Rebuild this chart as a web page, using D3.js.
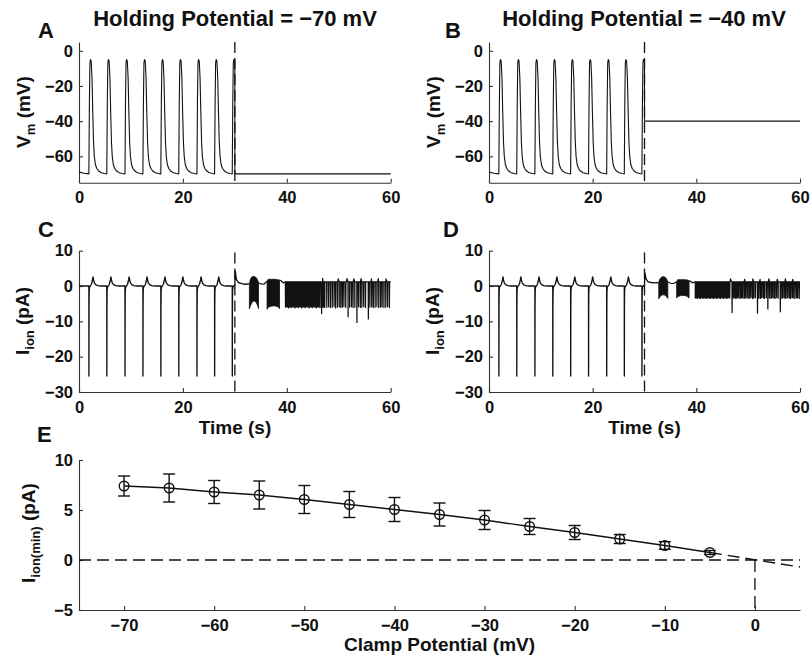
<!DOCTYPE html>
<html>
<head>
<meta charset="utf-8">
<script src="https://cdn.jsdelivr.net/npm/d3@7"></script>
<style>
  html, body { margin: 0; padding: 0; background: #fff; }
  svg { display: block; font-family: "Liberation Sans", Arial, Helvetica, sans-serif; font-weight: bold; }
  .axis text { font-size: 16.5px; fill: #111; font-family: "Liberation Sans", Arial, Helvetica, sans-serif; font-weight: bold; }
  .axis path, .axis line { stroke: #333; stroke-width: 1.1; }
  .label { fill: #111; }
</style>
</head>
<body>
<svg id="fig" width="810" height="658"></svg>
<script>
// ---------- tick labels ----------
const timeTicks = [0, 20, 40, 60];
const vmTicks = [0, -20, -40, -60];
const ionTicks = [10, 0, -10, -20, -30];
const clampTicks = [-70, -60, -50, -40, -30, -20, -10, 0];
const iminTicks = [10, 5, 0, -5];

// ---------- panels A-D: free-running period, then voltage clamp ----------
const holdingPotentials = [-70, -40];        // mV, panel A / panel B
const clampOnset = 30;                       // s
const spikeOnsets = [1.9, 5.35, 8.85, 12.3, 15.75, 19.2, 22.7, 26.1, 29.5]; // s

// membrane potential before the first spike [t (s), Vm (mV)]
const vmStart = [[0, -69], [1.0, -69.6], [1.9, -70]];
// one action potential [time after onset (s), Vm (mV)]
const vmSpikeShape = [
  [0, -70], [0.1, -30], [0.2, -7], [0.3, -5], [0.45, -6], [0.6, -15], [0.75, -35],
  [0.9, -52], [1.05, -60], [1.25, -64.5], [1.5, -66.8], [1.9, -68.4], [2.4, -69.3], [3.0, -69.8]
];
// ionic current during one action potential [time after onset (s), I (pA)]
const ionSpikeShape = [
  [0, 0], [0.01, -25.5], [0.03, -6], [0.06, -1.5], [0.12, -0.3], [0.3, 0],
  [0.5, 0.5], [0.7, 1.8], [0.8, 2.6], [0.9, 1.7], [1.05, 0.9], [1.3, 0.4], [1.7, 0.1], [2.3, 0]
];

// clamped current, holding -70 mV (panel C)
const clampC_lead = [[30.0, 0.3], [30.08, 4.2], [30.3, 1.8], [30.7, 1.0], [31.3, 0.7], [32.0, 0.5], [32.8, 0.6]];
const clampC_burst1 = [[32.8, 0.6, -6.5], [33.0, 2.0, -5.6], [33.3, 2.6, -4.6], [33.7, 2.7, -4.2], [34.1, 2.4, -4.6], [34.4, 1.6, -5.6], [34.55, 0.9, -6.4]];
const clampC_gap = [[34.55, 0.9], [35.0, 0.6], [35.6, 0.5], [36.2, 1.4]];
const clampC_burst2 = [[36.2, 1.4, -6.6], [36.4, 1.9, -6.0], [37.0, 1.9, -5.7], [37.6, 1.9, -5.6], [38.2, 1.8, -5.8], [38.6, 1.7, -6.4]];
const clampC_tail = [[38.6, 1.7], [38.9, 1.5], [39.3, 0.9], [39.7, 1.2]];
const clampC_baseline = 1.2;
const clampC_spikes = [
  [39.75, -6.0], [39.95, -5.8], [40.15, -6.0], [40.35, -6.2], [40.55, -5.9], [40.75, -6.0], [40.95, -6.1],
  [41.2, -5.8], [41.4, -6.0], [41.6, -6.2], [41.85, -5.9], [42.05, -6.0], [42.25, -6.1], [42.5, -5.8],
  [42.7, -6.0], [42.9, -6.2], [43.15, -5.9], [43.35, -6.0], [43.6, -6.1], [43.8, -5.8], [44.05, -6.0],
  [44.3, -6.2], [44.5, -5.9], [44.75, -6.0], [45.0, -6.1], [45.2, -5.8], [45.45, -6.0], [45.7, -6.2],
  [45.9, -5.9], [46.15, -6.0], [46.4, -6.1], [46.7, -7.8], [46.85, -6.0], [47.0, -5.8], [47.15, -6.0],
  [47.3, -6.1], [47.7, -6.0], [48.05, -5.9], [48.4, -6.1], [48.75, -6.0], [49.1, -5.8], [49.4, -6.2],
  [49.75, -6.0], [50.1, -5.9], [50.4, -6.1], [50.7, -6.0], [51.0, -5.8], [51.35, -6.1], [51.8, -8.7],
  [52.1, -6.0], [52.45, -5.9], [52.75, -6.1], [53.1, -6.0], [53.5, -10.3], [53.8, -5.9], [54.15, -6.1],
  [54.45, -6.0], [54.8, -5.8], [55.15, -6.1], [55.7, -9.3], [56.0, -6.0], [56.35, -5.9], [56.65, -6.1],
  [57.0, -6.0], [57.35, -5.8], [57.7, -6.1], [58.05, -6.0], [58.35, -5.9], [58.7, -6.1], [59.05, -6.0],
  [59.4, -5.8], [59.75, -6.1]
];
const clampC_bumps = [[46.9, 2.2], [49.9, 2.0], [51.6, 2.1], [52.9, 2.0], [54.3, 2.1], [56.3, 2.0], [57.6, 2.1], [59.1, 2.0]];

// clamped current, holding -40 mV (panel D)
const clampD_lead = [[30.0, 0.3], [30.08, 3.7], [30.3, 2.0], [30.7, 1.2], [31.3, 1.0], [32.0, 0.9], [32.75, 1.0]];
const clampD_burst1 = [[32.75, 1.0, -3.6], [33.0, 2.1, -3.0], [33.4, 2.6, -2.5], [33.8, 2.6, -2.5], [34.2, 2.2, -2.9], [34.5, 1.2, -3.5]];
const clampD_gap = [[34.5, 1.2], [35.0, 0.8], [35.6, 0.7], [36.2, 1.2]];
const clampD_burst2 = [[36.2, 1.2, -3.4], [36.4, 1.8, -3.0], [37.0, 1.8, -2.7], [37.8, 1.8, -2.7], [38.3, 1.7, -3.0], [38.6, 1.5, -3.4]];
const clampD_tail = [[38.6, 1.5], [38.9, 1.3], [39.3, 0.9], [39.8, 1.2]];
const clampD_baseline = 1.2;
const clampD_spikes = [
  [39.8, -3.4], [40.0, -3.3], [40.2, -3.5], [40.4, -3.3], [40.6, -3.4], [40.8, -3.5], [41.0, -3.3],
  [41.2, -3.4], [41.45, -3.5], [41.65, -3.3], [41.85, -3.4], [42.05, -3.5], [42.3, -3.3], [42.5, -3.4],
  [42.7, -3.5], [42.9, -3.3], [43.15, -3.4], [43.35, -3.5], [43.55, -3.3], [43.8, -3.4], [44.0, -3.5],
  [44.2, -3.3], [44.45, -3.4], [44.65, -3.5], [44.85, -3.3], [45.1, -3.4], [45.3, -3.5], [45.5, -3.3],
  [45.75, -3.4], [45.95, -3.5], [46.2, -3.3], [46.45, -3.4], [46.9, -7.5], [47.1, -3.4], [47.35, -3.3],
  [47.6, -3.5], [47.85, -3.4], [48.1, -3.3], [48.4, -3.5], [48.65, -3.4], [48.9, -3.3], [49.2, -3.5],
  [49.45, -3.4], [49.75, -3.3], [50.0, -3.5], [50.3, -3.4], [50.55, -3.3], [50.85, -3.5], [51.1, -3.4],
  [51.4, -3.3], [51.8, -7.7], [52.05, -3.4], [52.35, -3.5], [52.6, -3.3], [52.9, -3.4], [53.15, -3.5],
  [53.5, -3.3], [53.8, -6.5], [54.1, -3.4], [54.4, -3.5], [54.65, -3.3], [54.95, -3.4], [55.2, -3.5],
  [55.5, -3.3], [55.8, -3.4], [56.2, -7.3], [56.5, -3.5], [56.75, -3.3], [57.05, -3.4], [57.3, -3.5],
  [57.6, -3.3], [57.9, -3.4], [58.15, -3.5], [58.45, -3.3], [58.7, -3.4], [59.0, -3.5], [59.3, -3.3],
  [59.55, -3.4], [59.85, -3.5]
];
const clampD_bumps = [[46.6, 2.0], [49.3, 1.9], [50.9, 2.0], [52.3, 1.9], [54.0, 2.0], [55.6, 1.9], [57.2, 2.0], [58.6, 1.9]];

// ---------- panel E: minimum ionic current vs clamp potential ----------
const clampPotentials = [-70, -65, -60, -55, -50, -45, -40, -35, -30, -25, -20, -15, -10, -5];
const iMinMean = [7.4, 7.2, 6.8, 6.5, 6.05, 5.55, 5.05, 4.55, 4.0, 3.35, 2.75, 2.1, 1.45, 0.75];
const iMinErr = [1.0, 1.4, 1.15, 1.4, 1.4, 1.3, 1.2, 1.15, 0.95, 0.8, 0.7, 0.45, 0.38, 0.2];
const iMinExtrapolation = [[-5, 0.75], [5, -0.7]];

// ---------- layout ----------
const svg = d3.select('#fig');
const ink = '#111';
const box = {
  A: { l: 79, r: 390.7, t: 42, b: 182.7 },
  B: { l: 489, r: 800, t: 42, b: 182.7 },
  C: { l: 79, r: 390.7, t: 250.7, b: 392 },
  D: { l: 489, r: 800, t: 250.7, b: 392 },
  E: { l: 79, r: 800, t: 460, b: 610 }
};

function drawAxes(xs, ys, xticks, yticks) {
  const [x0] = xs.range();
  const [y0] = ys.range();
  const gx = svg.append('g').attr('class', 'axis')
    .attr('transform', `translate(0,${y0})`)
    .call(d3.axisBottom(xs).tickValues(xticks).tickSizeInner(-4).tickSizeOuter(0).tickPadding(9));
  const gy = svg.append('g').attr('class', 'axis')
    .attr('transform', `translate(${x0},0)`)
    .call(d3.axisLeft(ys).tickValues(yticks).tickSizeInner(-4).tickSizeOuter(0).tickPadding(6));
  [gx, gy].forEach(g => g.attr('font-size', null).attr('font-family', null));
}

// action-potential train from a start segment and a repeated waveform
function spikeTrain(start, shape, onsets, stopT) {
  const pts = start.slice();
  onsets.forEach((t0, i) => {
    const next = i < onsets.length - 1 ? onsets[i + 1] : stopT;
    shape.forEach(([dt, v]) => {
      const t = t0 + dt;
      if (t < next && t < stopT) pts.push([t, v]);
    });
  });
  return pts;
}

// fast clamped-current activity: baseline with downward spikes and small upward bumps
function spikeBand(t0, t1, base, spikes, bumps) {
  const pts = [[t0, base], [t1, base]];
  spikes.forEach(([t, lo]) => { pts.push([t - 0.03, base], [t, lo], [t + 0.04, base]); });
  bumps.forEach(([t, hi]) => { pts.push([t - 0.12, base], [t, hi], [t + 0.2, base]); });
  return pts.sort((a, b) => a[0] - b[0]);
}

function tracePath(xs, ys, pts, width) {
  svg.append('path')
    .attr('d', d3.line().x(d => xs(d[0])).y(d => ys(d[1]))(pts))
    .attr('fill', 'none').attr('stroke', ink).attr('stroke-width', width)
    .attr('stroke-linejoin', 'round');
}

function burstArea(xs, ys, env) {
  svg.append('path')
    .attr('d', d3.area().x(d => xs(d[0])).y0(d => ys(d[2])).y1(d => ys(d[1]))(env))
    .attr('fill', ink).attr('stroke', ink).attr('stroke-width', 0.8);
}

function clampMarker(xs, ys, lo, hi) {
  svg.append('line')
    .attr('x1', xs(clampOnset)).attr('x2', xs(clampOnset))
    .attr('y1', ys(hi)).attr('y2', ys(lo))
    .attr('stroke', ink).attr('stroke-width', 1.3).attr('stroke-dasharray', '11,5');
}

// ---------- panels A and B: membrane potential ----------
['A', 'B'].forEach((key, i) => {
  const b = box[key];
  const xs = d3.scaleLinear().domain([0, 60]).range([b.l, b.r]);
  const ys = d3.scaleLinear().domain([-75, 5]).range([b.b, b.t]);
  drawAxes(xs, ys, timeTicks, vmTicks);
  const pts = spikeTrain(vmStart, vmSpikeShape, spikeOnsets, clampOnset);
  const last = pts[pts.length - 1][1];
  pts.push([clampOnset, last], [clampOnset, holdingPotentials[i]], [60, holdingPotentials[i]]);
  tracePath(xs, ys, pts, 1.1);
  clampMarker(xs, ys, -75, 5);
});

// ---------- panels C and D: ionic current ----------
const clampSets = [
  { lead: clampC_lead, b1: clampC_burst1, gap: clampC_gap, b2: clampC_burst2, tail: clampC_tail,
    base: clampC_baseline, spikes: clampC_spikes, bumps: clampC_bumps },
  { lead: clampD_lead, b1: clampD_burst1, gap: clampD_gap, b2: clampD_burst2, tail: clampD_tail,
    base: clampD_baseline, spikes: clampD_spikes, bumps: clampD_bumps }
];
['C', 'D'].forEach((key, i) => {
  const b = box[key];
  const s = clampSets[i];
  const xs = d3.scaleLinear().domain([0, 60]).range([b.l, b.r]);
  const ys = d3.scaleLinear().domain([-30, 10]).range([b.b, b.t]);
  drawAxes(xs, ys, timeTicks, ionTicks);
  const pre = spikeTrain([[0, 0]], ionSpikeShape, spikeOnsets, clampOnset);
  tracePath(xs, ys, pre.concat(s.lead), 1.35);
  burstArea(xs, ys, s.b1);
  tracePath(xs, ys, s.gap, 1.1);
  burstArea(xs, ys, s.b2);
  const t0 = s.tail[s.tail.length - 1][0];
  tracePath(xs, ys, s.tail.concat(spikeBand(t0, 60, s.base, s.spikes, s.bumps)), 1.25);
  clampMarker(xs, ys, -30, 9.5);
});

// ---------- panel E ----------
{
  const b = box.E;
  const xs = d3.scaleLinear().domain([-75, 5]).range([b.l, b.r]);
  const ys = d3.scaleLinear().domain([-5, 10]).range([b.b, b.t]);
  drawAxes(xs, ys, clampTicks, iminTicks);

  // zero-current reference and reversal potential
  svg.append('line').attr('x1', xs(-75)).attr('x2', xs(5)).attr('y1', ys(0)).attr('y2', ys(0))
    .attr('stroke', ink).attr('stroke-width', 1.3).attr('stroke-dasharray', '12,6');
  svg.append('line').attr('x1', xs(0)).attr('x2', xs(0)).attr('y1', ys(0)).attr('y2', ys(-5))
    .attr('stroke', ink).attr('stroke-width', 1.3).attr('stroke-dasharray', '12,6');

  const pts = clampPotentials.map((v, i) => ({ v, m: iMinMean[i], e: iMinErr[i] }));
  svg.append('path')
    .attr('d', d3.line().x(d => xs(d.v)).y(d => ys(d.m))(pts))
    .attr('fill', 'none').attr('stroke', ink).attr('stroke-width', 1.4);
  svg.append('path')
    .attr('d', d3.line().x(d => xs(d[0])).y(d => ys(d[1]))(iMinExtrapolation))
    .attr('fill', 'none').attr('stroke', ink).attr('stroke-width', 1.4).attr('stroke-dasharray', '12,6');

  const bars = svg.append('g').attr('stroke', ink).attr('stroke-width', 1.4).attr('fill', 'none');
  pts.forEach(d => {
    const x = xs(d.v), yt = ys(d.m + d.e), yb = ys(d.m - d.e);
    bars.append('line').attr('x1', x).attr('x2', x).attr('y1', yt).attr('y2', yb);
    bars.append('line').attr('x1', x - 6).attr('x2', x + 6).attr('y1', yt).attr('y2', yt);
    bars.append('line').attr('x1', x - 6).attr('x2', x + 6).attr('y1', yb).attr('y2', yb);
    bars.append('circle').attr('cx', x).attr('cy', ys(d.m)).attr('r', 4.8);
  });
}

// ---------- text ----------
function addText(x, y, str, size, anchor) {
  svg.append('text').attr('class', 'label').attr('x', x).attr('y', y)
    .attr('font-size', size).attr('text-anchor', anchor || 'start').text(str);
}
addText(235, 26, 'Holding Potential = \u221270 mV', 22, 'middle');
addText(644, 26, 'Holding Potential = \u221240 mV', 22, 'middle');
addText(38, 38, 'A', 22); addText(445, 38, 'B', 22);
addText(38, 237, 'C', 22); addText(443, 237, 'D', 22);
addText(37, 442, 'E', 22);
addText(235, 434, 'Time (s)', 19, 'middle');
addText(644.5, 434, 'Time (s)', 19, 'middle');
addText(439.5, 651, 'Clamp Potential (mV)', 19, 'middle');

function yLabel(x, y, main, sub, unit) {
  const t = svg.append('text').attr('class', 'label')
    .attr('transform', `translate(${x},${y}) rotate(-90)`).attr('text-anchor', 'middle');
  t.append('tspan').attr('font-size', 19).text(main);
  t.append('tspan').attr('font-size', 13).attr('dy', 5).text(sub);
  t.append('tspan').attr('font-size', 19).attr('dy', -5).text(unit);
}
yLabel(29.5, 112, 'V', 'm', ' (mV)');
yLabel(439.5, 112, 'V', 'm', ' (mV)');
yLabel(28.5, 321, 'I', 'ion', ' (pA)');
yLabel(438.5, 321, 'I', 'ion', ' (pA)');
yLabel(35, 533, 'I', 'ion(min)', ' (pA)');
</script>
</body>
</html>
